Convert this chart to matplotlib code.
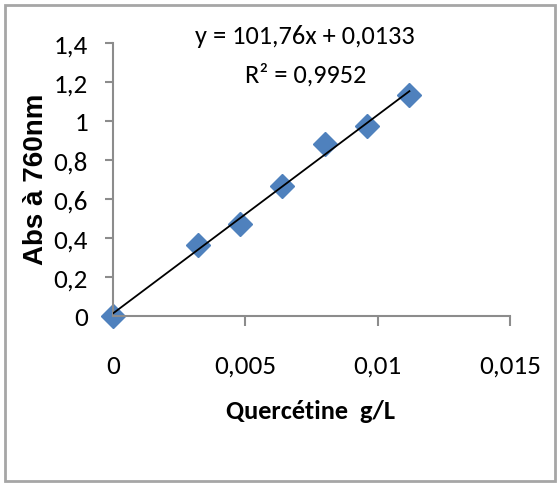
import matplotlib
matplotlib.use("Agg")
import matplotlib.pyplot as plt
from matplotlib.patches import Rectangle
import numpy as np

# Data
conc = [0.0, 0.0032, 0.0048, 0.0064, 0.0080, 0.0096, 0.0112]
absorb = [0.0, 0.364, 0.472, 0.668, 0.882, 0.976, 1.135]
slope = 101.76
intercept = 0.0133
eq_text = "y = 101,76x + 0,0133"
r2_text = "R² = 0,9952"
x_ticks = [0, 0.005, 0.01, 0.015]
x_tick_labels = ["0", "0,005", "0,01", "0,015"]
y_ticks = [0, 0.2, 0.4, 0.6, 0.8, 1.0, 1.2, 1.4]
y_tick_labels = ["0", "0,2", "0,4", "0,6", "0,8", "1", "1,2", "1,4"]
x_label = "Quercétine  g/L"
y_label = "Abs à 760nm"

W, H = 558, 485
fig = plt.figure(figsize=(W / 100, H / 100), dpi=100)
fig.patch.set_facecolor("white")

# outer border
fig.patches.append(Rectangle((5 / W, 3 / H), 550 / W, 476 / H, transform=fig.transFigure,
                             fill=False, edgecolor="#a6a6a6", linewidth=2.0))

ax = fig.add_axes([113 / W, (H - 317) / H, (510 - 113) / W, (317 - 44) / H])
ax.set_xlim(0, 0.015)
ax.set_ylim(0, 1.4)

cal = ["Carlito", "DejaVu Sans"]

fit_x = np.array([min(conc), max(conc)])
ax.plot(fit_x, slope * fit_x + intercept, color="black", linewidth=1.3, zorder=3)
ax.plot(conc, absorb, linestyle="none", marker="D", markersize=12,
        color="#4f81bd", markeredgecolor="#4f81bd", clip_on=False, zorder=2)

for s in ["top", "right"]:
    ax.spines[s].set_visible(False)
for s in ["left", "bottom"]:
    ax.spines[s].set_color("#8c8c8c")
    ax.spines[s].set_linewidth(1.5)

ax.set_xticks(x_ticks)
ax.set_xticklabels(x_tick_labels, fontfamily=cal, fontsize=19.5)
ax.set_yticks(y_ticks)
ax.set_yticklabels(y_tick_labels, fontfamily=cal, fontsize=19.5)
ax.tick_params(axis="x", direction="out", length=7, width=1.5, color="#8c8c8c", pad=20)
ax.tick_params(axis="y", direction="out", length=6, width=1.5, color="#8c8c8c", pad=12)

fig.text(311 / W, 1 - 412 / H, x_label, ha="center", va="center",
         fontfamily=cal, fontweight="bold", fontsize=19)
fig.text(36 / W, 1 - 179 / H, y_label, ha="center", va="center", rotation=90,
         fontfamily=["Liberation Sans", "DejaVu Sans"], fontweight="bold", fontsize=20)
fig.text(305 / W, 1 - 37 / H, eq_text, ha="center", va="center",
         fontfamily=cal, fontsize=19)
fig.text(306 / W, 1 - 75 / H, r2_text, ha="center", va="center",
         fontfamily=cal, fontsize=19)

fig.savefig("out.png", dpi=100)
